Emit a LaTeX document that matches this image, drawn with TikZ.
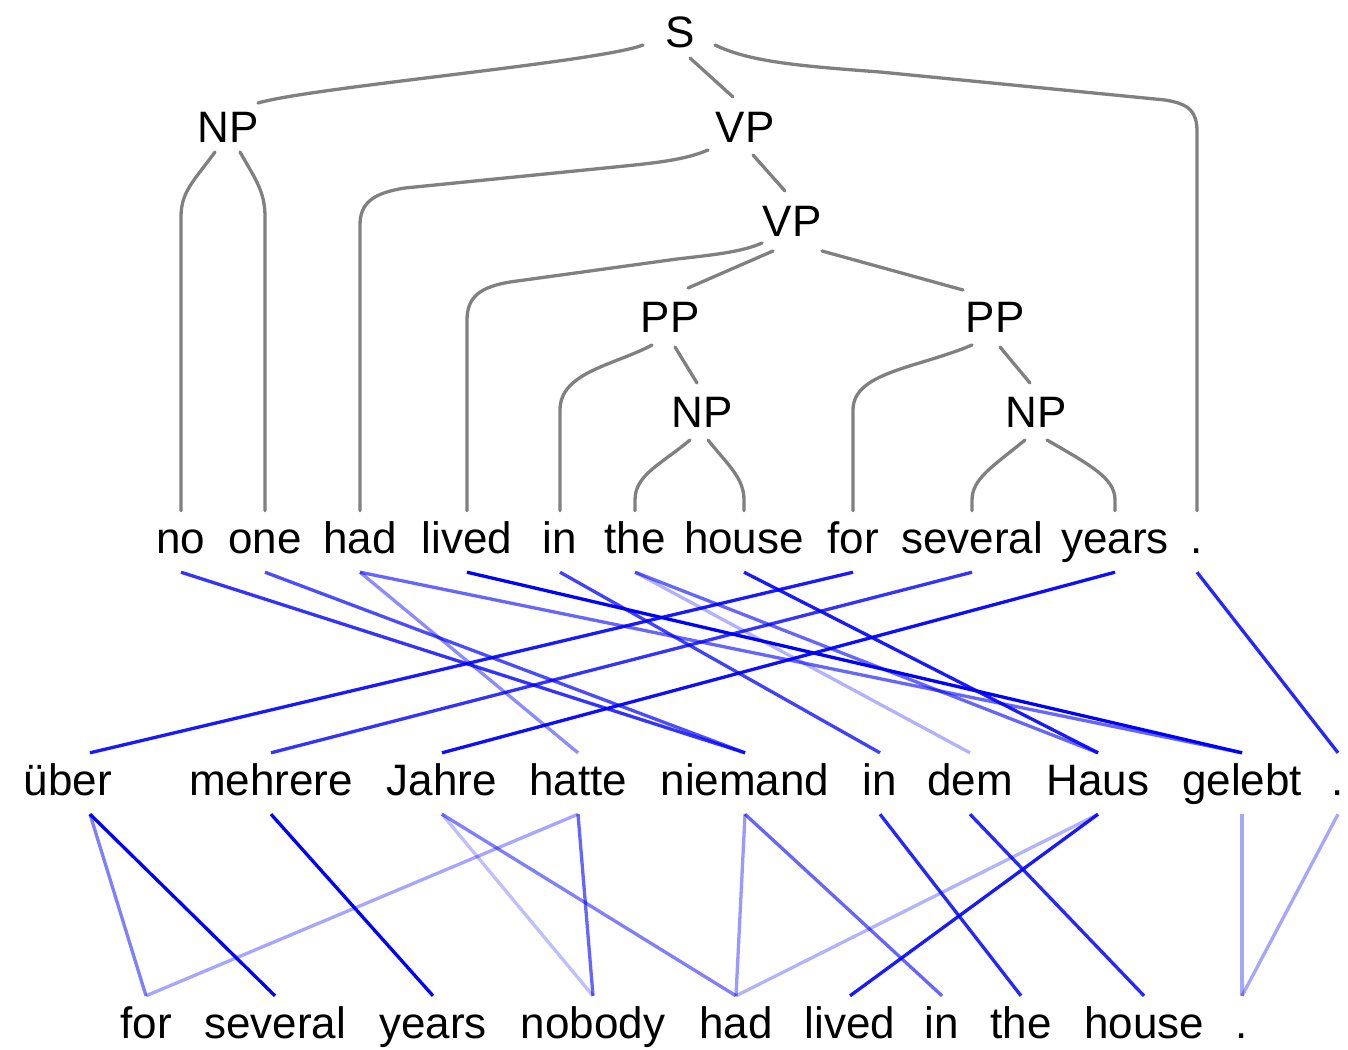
\documentclass[tikz,border=0pt]{standalone}
\usepackage{fontspec}
\setmainfont{Liberation Sans}
\usetikzlibrary{calc}
\definecolor{treegray}{RGB}{128,128,128}
\definecolor{linkblue}{RGB}{0,0,255}
\begin{document}
\begin{tikzpicture}[x=1pt,y=-1pt,
  every node/.style={font=\fontsize{44}{50}\selectfont},
  cat/.style={inner sep=0pt, text height=31.5pt, text depth=0pt},
  word/.style={inner xsep=0pt, inner ysep=10pt, text height=32pt, text depth=9pt, anchor=base},
  branch/.style={draw=treegray, line width=3.3pt, line cap=round},
  wlink/.style={draw=linkblue, line width=3.3pt, draw opacity=#1},
]
\useasboundingbox (0,0) rectangle (1348,1049);

% ---- parse tree categories
\node[cat] (nS)   at (680,32)  {S};
\node[cat] (nNP)  at (228,127) {NP};
\node[cat] (nVP)  at (745,127) {VP};
\node[cat] (nVPb) at (792,221) {VP};
\node[cat] (nPPa) at (670,317) {PP};
\node[cat] (nPPb) at (995,317) {PP};
\node[cat] (nNPa) at (702,412) {NP};
\node[cat] (nNPb) at (1036,412) {NP};

% ---- English sentence (leaves of the tree)
\node[word] (eno)      at (181,553)  {no};
\node[word] (eone)     at (265,553)  {one};
\node[word] (ehad)     at (360,553)  {had};
\node[word] (elived)   at (467,553)  {lived};
\node[word] (ein)      at (560,553)  {in};
\node[word] (ethe)     at (635,553)  {the};
\node[word] (ehouse)   at (744,553)  {house};
\node[word] (efor)     at (853,553)  {for};
\node[word] (eseveral) at (972,553)  {several};
\node[word] (eyears)   at (1115,553) {years};
\node[word] (edot)     at (1197,553) {.};

% ---- German sentence
\node[word] (gueber)   at (68,795)   {über};
\node[word] (gmehrere) at (271,795)  {mehrere};
\node[word] (gjahre)   at (442,795)  {Jahre};
\node[word] (ghatte)   at (578,795)  {hatte};
\node[word] (gniemand) at (745,795)  {niemand};
\node[word] (gin)      at (880,795)  {in};
\node[word] (gdem)     at (970,795)  {dem};
\node[word] (ghaus)    at (1098,795) {Haus};
\node[word] (ggelebt)  at (1242,795) {gelebt};
\node[word] (gdot)     at (1338,795) {.};

% ---- English translation
\node[word] (bfor)     at (146,1038)  {for};
\node[word] (bseveral) at (275,1038)  {several};
\node[word] (byears)   at (433,1038)  {years};
\node[word] (bnobody)  at (593,1038)  {nobody};
\node[word] (bhad)     at (736,1038)  {had};
\node[word] (blived)   at (850,1038)  {lived};
\node[word] (bin)      at (942,1038)  {in};
\node[word] (bthe)     at (1021,1038) {the};
\node[word] (bhouse)   at (1144,1038) {house};
\node[word] (bdot)     at (1242,1038) {.};

% ---- tree branches
\draw[branch] ($(nS)+(-37,13)$) .. controls ($(nS)+(-80,30)$) and ($(nNP)+(85,-40)$) .. ($(nNP)+(30,-24)$);
\draw[branch] ($(nS)+(10,26)$) -- ($(nVP)+(-12,-30)$);
\draw[branch] ($(nS)+(35,13)$) .. controls ($(nS)+(70,30)$) and ($(nS)+(120,34)$) .. ($(nS)+(200,40)$)
   -- (1165,100) .. controls (1190,104) and (1197,112) .. (1197,132) -- (edot.north);
\draw[branch] ($(nNP)+(-13,25)$) .. controls ($(nNP)+(-35,55)$) and ($(nNP)+(-47,65)$) .. ($(nNP)+(-47,90)$) -- (eno.north);
\draw[branch] ($(nNP)+(12,25)$) .. controls ($(nNP)+(28,53)$) and ($(nNP)+(37,65)$) .. ($(nNP)+(37,90)$) -- (eone.north);
\draw[branch] ($(nVP)+(-37,23)$) .. controls ($(nVP)+(-60,33)$) and ($(nVP)+(-90,36)$) .. ($(nVP)+(-130,40)$)
   -- (405,188) .. controls (373,193) and (360,203) .. (360,225) -- (ehad.north);
\draw[branch] ($(nVP)+(8,28)$) -- ($(nVPb)+(-7,-30)$);
\draw[branch] ($(nVPb)+(-30,22)$) .. controls ($(nVPb)+(-50,31)$) and ($(nVPb)+(-80,34)$) .. ($(nVPb)+(-115,38)$)
   -- (510,282) .. controls (480,287) and (467,297) .. (467,320) -- (elived.north);
\draw[branch] ($(nVPb)+(-19,30)$) -- ($(nPPa)+(18,-29)$);
\draw[branch] ($(nVPb)+(30,30)$) -- ($(nPPb)+(-32,-27)$);
\draw[branch] ($(nPPa)+(-18,28)$) .. controls (615,365) and (560,372) .. (560,410) -- (ein.north);
\draw[branch] ($(nPPa)+(5,30)$) -- ($(nNPa)+(-5,-29)$);
\draw[branch] ($(nPPb)+(-23,28)$) .. controls (918,368) and (853,372) .. (853,410) -- (efor.north);
\draw[branch] ($(nPPb)+(5,30)$) -- ($(nNPb)+(-6,-29)$);
\draw[branch] ($(nNPa)+(-12,28)$) .. controls (660,465) and (635,475) .. (635,500) -- (ethe.north);
\draw[branch] ($(nNPa)+(6,28)$) .. controls (728,465) and (744,478) .. (744,500) -- (ehouse.north);
\draw[branch] ($(nNPb)+(-11,28)$) .. controls (995,465) and (972,478) .. (972,500) -- (eseveral.north);
\draw[branch] ($(nNPb)+(11,28)$) .. controls (1090,465) and (1115,478) .. (1115,500) -- (eyears.north);

% ---- alignment: English (tree) to German
\draw[wlink=0.8]  (eno.south) -- (gniemand.north);
\draw[wlink=0.7]  (eone.south) -- (gniemand.north);
\draw[wlink=0.45] (ehad.south) -- (ghatte.north);
\draw[wlink=0.6]  (ehad.south) -- (ggelebt.north);
\draw[wlink=1]    (elived.south) -- (ggelebt.north);
\draw[wlink=0.75] (ein.south) -- (gin.north);
\draw[wlink=0.3]  (ethe.south) -- (gdem.north);
\draw[wlink=0.6]  (ethe.south) -- (ghaus.north);
\draw[wlink=0.9]  (ehouse.south) -- (ghaus.north);
\draw[wlink=0.9]  (efor.south) -- ([xshift=22pt]gueber.north);
\draw[wlink=0.8]  (eseveral.south) -- (gmehrere.north);
\draw[wlink=0.95] (eyears.south) -- (gjahre.north);
\draw[wlink=0.85] (edot.south) -- (gdot.north);

% ---- alignment: German to English translation
\draw[wlink=0.5]  ([xshift=22pt]gueber.south) -- (bfor.north);
\draw[wlink=1]    ([xshift=22pt]gueber.south) -- (bseveral.north);
\draw[wlink=1]    (gmehrere.south) -- (byears.north);
\draw[wlink=0.25] (gjahre.south) -- (bnobody.north);
\draw[wlink=0.5]  (gjahre.south) -- (bhad.north);
\draw[wlink=0.35] (ghatte.south) -- (bfor.north);
\draw[wlink=0.6]  (ghatte.south) -- (bnobody.north);
\draw[wlink=0.4]  (gniemand.south) -- (bhad.north);
\draw[wlink=0.6]  (gniemand.south) -- (bin.north);
\draw[wlink=0.3]  (ghaus.south) -- (bhad.north);
\draw[wlink=0.9]  (ghaus.south) -- (blived.north);
\draw[wlink=0.85] (gin.south) -- (bthe.north);
\draw[wlink=0.85] (gdem.south) -- (bhouse.north);
\draw[wlink=0.35] (ggelebt.south) -- (bdot.north);
\draw[wlink=0.35] (gdot.south) -- (bdot.north);
\end{tikzpicture}
\end{document}
